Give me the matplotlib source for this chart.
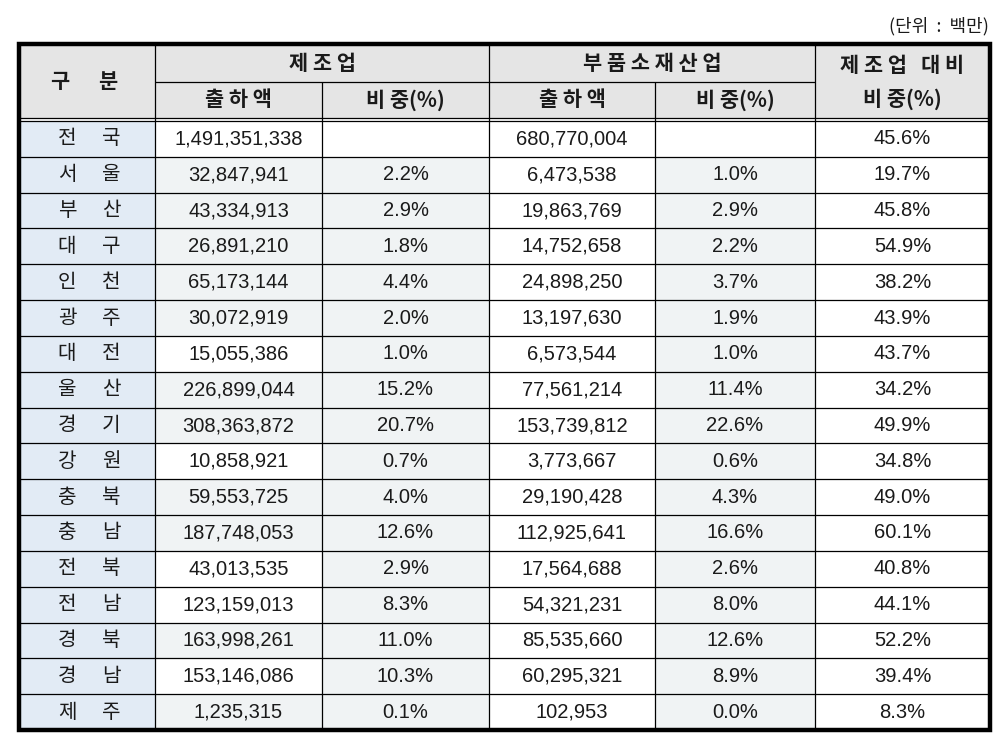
import matplotlib
matplotlib.use("Agg")
import matplotlib.pyplot as plt
from matplotlib.patches import Rectangle

# ---- data ----
regions = ["전국", "서울", "부산", "대구", "인천", "광주", "대전", "울산", "경기",
           "강원", "충북", "충남", "전북", "전남", "경북", "경남", "제주"]
mfg_output = [1491351338, 32847941, 43334913, 26891210, 65173144, 30072919, 15055386,
              226899044, 308363872, 10858921, 59553725, 187748053, 43013535,
              123159013, 163998261, 153146086, 1235315]
mfg_share = [None, 2.2, 2.9, 1.8, 4.4, 2.0, 1.0, 15.2, 20.7, 0.7, 4.0, 12.6, 2.9,
             8.3, 11.0, 10.3, 0.1]
parts_output = [680770004, 6473538, 19863769, 14752658, 24898250, 13197630, 6573544,
                77561214, 153739812, 3773667, 29190428, 112925641, 17564688,
                54321231, 85535660, 60295321, 102953]
parts_share = [None, 1.0, 2.9, 2.2, 3.7, 1.9, 1.0, 11.4, 22.6, 0.6, 4.3, 16.6, 2.6,
               8.0, 12.6, 8.9, 0.0]
ratio = [45.6, 19.7, 45.8, 54.9, 38.2, 43.9, 43.7, 34.2, 49.9, 34.8, 49.0, 60.1,
         40.8, 44.1, 52.2, 39.4, 8.3]
mfg_output_shaded = [False, True, True, True, True, True, False, True, True,
                     False, True, True, False, False, True, False, True]

header_top = ["구 분", "제 조 업", "부 품 소 재 산 업", "제 조 업   대 비"]
header_sub = ["출 하 액", "비 중(%)", "출 하 액", "비 중(%)", "비 중(%)"]
unit_label = "(단위  :  백만)"

# ---- layout (pixel space) ----
W, H = 1001, 742
fig = plt.figure(figsize=(W / 100, H / 100), dpi=100)
ax = fig.add_axes([0, 0, 1, 1])
ax.set_xlim(0, W)
ax.set_ylim(H, 0)
ax.axis("off")

xs = [19, 155, 322, 489, 655, 815, 990]
y_top, y_mid, y_hdr1, y_hdr2 = 44, 82, 118, 121
y_bot = 730
n = len(regions)
rh = (y_bot - y_hdr2) / n

KR = ["Noto Sans CJK KR", "DejaVu Sans"]
NUM = ["Liberation Sans", "Noto Sans CJK KR", "DejaVu Sans"]

HEAD_BG = "#e5e5e5"
BLUE_BG = "#e2ebf5"
GRAY_BG = "#f0f3f4"
TXT = "#1a1a1a"

def rect(x0, y0, x1, y1, color):
    ax.add_patch(Rectangle((x0, y0), x1 - x0, y1 - y0, facecolor=color,
                           edgecolor="none", zorder=1))

def hline(y, x0, x1, lw=1.0):
    ax.plot([x0, x1], [y, y], color="black", lw=lw, zorder=3, solid_capstyle="butt")

def vline(x, y0, y1, lw=1.0):
    ax.plot([x, x], [y0, y1], color="black", lw=lw, zorder=3, solid_capstyle="butt")

# header background
rect(xs[0], y_top, xs[-1], y_hdr1, HEAD_BG)

# body backgrounds
for i in range(n):
    y0 = y_hdr2 + i * rh
    y1 = y0 + rh
    rect(xs[0], y0, xs[1], y1, BLUE_BG)
    if mfg_output_shaded[i]:
        rect(xs[1], y0, xs[2], y1, GRAY_BG)
    if mfg_share[i] is not None:
        rect(xs[2], y0, xs[3], y1, GRAY_BG)
    if parts_share[i] is not None:
        rect(xs[4], y0, xs[5], y1, GRAY_BG)

# grid lines
hline(y_mid, xs[1], xs[5], 0.9)
hline(y_hdr1, xs[0], xs[-1], 0.9)
hline(y_hdr2, xs[0], xs[-1], 0.9)
for i in range(1, n):
    hline(y_hdr2 + i * rh, xs[0], xs[-1], 0.9)
for x in (xs[1], xs[3], xs[5]):
    vline(x, y_top, y_bot, 0.9)
for x in (xs[2], xs[4]):
    vline(x, y_mid, y_bot, 0.9)

# outer border
ax.add_patch(Rectangle((xs[0], y_top), xs[-1] - xs[0], y_bot - y_top,
                       facecolor="none", edgecolor="black", lw=3.2, zorder=4))

# header texts
hy1 = (y_top + y_mid) / 2
hy2 = (y_mid + y_hdr1) / 2
hyc = (y_top + y_hdr1) / 2
hkw = dict(ha="center", va="center", fontsize=15, fontweight="bold",
           family=KR, color=TXT, zorder=5)
ax.text(60, hyc, header_top[0][0], **hkw)
ax.text(108, hyc, header_top[0][-1], **hkw)
ax.text((xs[1] + xs[3]) / 2, hy1, header_top[1], **hkw)
ax.text((xs[3] + xs[5]) / 2, hy1, header_top[2], **hkw)
ax.text((xs[5] + xs[6]) / 2, hy1 + 3, header_top[3], **hkw)
for j, lab in enumerate(header_sub[:4]):
    ax.text((xs[j + 1] + xs[j + 2]) / 2, hy2, lab, **hkw)
ax.text((xs[5] + xs[6]) / 2, hy2 - 1, header_sub[4], **hkw)

# unit label
ax.text(989, 26, unit_label, ha="right", va="center", fontsize=13,
        family=KR, color=TXT)

# body texts
lkw = dict(ha="center", va="center", fontsize=14.5, family=KR, color=TXT, zorder=5)
nkw = dict(ha="center", va="center", fontsize=14.5, family=NUM, color=TXT, zorder=5)
for i in range(n):
    yc = y_hdr2 + (i + 0.5) * rh
    ax.text(67, yc, regions[i][0], **lkw)
    ax.text(111, yc, regions[i][1], **lkw)
    ax.text((xs[1] + xs[2]) / 2, yc, f"{mfg_output[i]:,}", **nkw)
    if mfg_share[i] is not None:
        ax.text((xs[2] + xs[3]) / 2, yc, f"{mfg_share[i]:.1f}%", **nkw)
    ax.text((xs[3] + xs[4]) / 2, yc, f"{parts_output[i]:,}", **nkw)
    if parts_share[i] is not None:
        ax.text((xs[4] + xs[5]) / 2, yc, f"{parts_share[i]:.1f}%", **nkw)
    ax.text((xs[5] + xs[6]) / 2, yc, f"{ratio[i]:.1f}%", **nkw)

fig.savefig("out.png", dpi=100, facecolor="white")
